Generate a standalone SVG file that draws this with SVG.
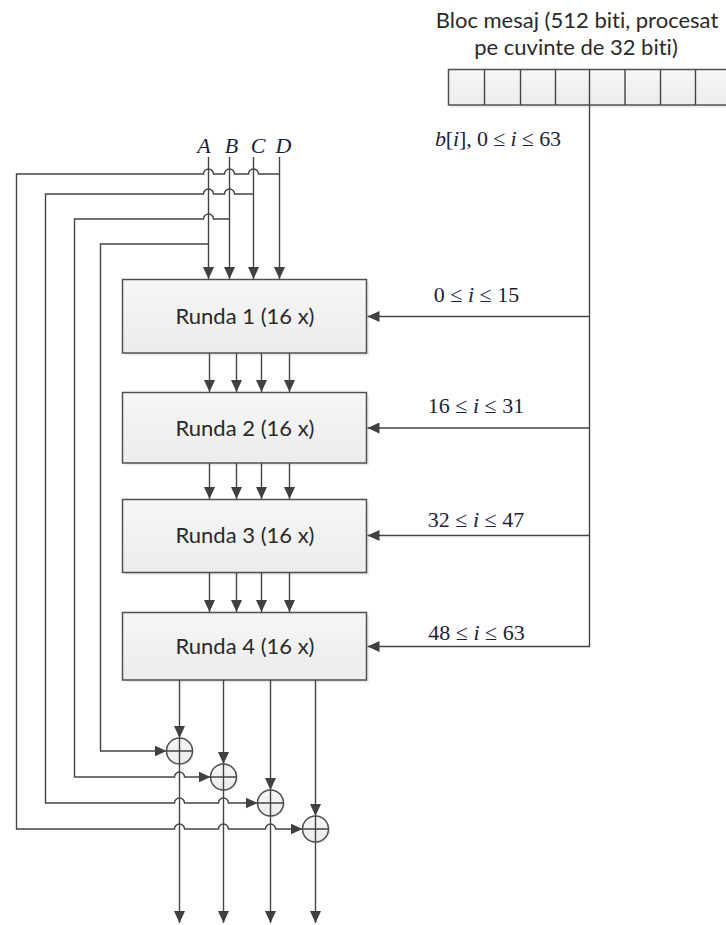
<svg xmlns="http://www.w3.org/2000/svg" width="726" height="925" viewBox="0 0 726 925">
<style>
  .ln{fill:none;stroke:#444;stroke-width:1.4}
  .arr{marker-end:url(#arr)}
  .box{fill:url(#gbox);stroke:#505050;stroke-width:1.5}
  .shadow{fill:#000;opacity:0.08}
  .cell{fill:url(#gbox);stroke:#505050;stroke-width:1.5}
  .lbl{font-family:Lato,"Liberation Sans",sans-serif;font-size:22px;fill:#2a2a2a;font-variant-ligatures:none;font-feature-settings:"liga" 0}
  .math{font-family:"Liberation Serif","Times New Roman",serif;font-size:22px;fill:#1e1e3c}
  .it{font-style:italic}
  .xor{fill:url(#gbox);stroke:#505050;stroke-width:1.5}
</style>
<defs>
  <linearGradient id="gbox" x1="0" y1="0" x2="0" y2="1">
    <stop offset="0" stop-color="#f6f6f6"/>
    <stop offset="1" stop-color="#ececec"/>
  </linearGradient>
  <marker id="arr" viewBox="0 0 12 11" markerWidth="12" markerHeight="11" refX="12" refY="5.5" orient="auto" markerUnits="userSpaceOnUse">
    <path d="M0,0 L12,5.5 L0,11 z" fill="#404040"/>
  </marker>
</defs>
<rect width="726" height="925" fill="#fff"/>

<g id="title">
  <text class="lbl" x="577" y="28" text-anchor="middle">Bloc mesaj (512 biti, procesat</text>
  <text class="lbl" x="576" y="55" text-anchor="middle">pe cuvinte de 32 biti)</text>
</g>

<g id="msg-block">
  <rect class="shadow" x="450.5" y="71.5" width="290" height="36"/>
  <rect class="cell" x="448.5" y="69.5" width="290" height="35.5"/>
  <path class="ln" d="M484.5,69.5V105M520.5,69.5V105M555.5,69.5V105M589.5,69.5V105M625,69.5V105M660.5,69.5V105M695.5,69.5V105" stroke="#505050"/>
</g>

<g id="labels">
  <text class="math" x="435" y="146" textLength="126" lengthAdjust="spacing"><tspan class="it">b</tspan>[<tspan class="it">i</tspan>], 0 ≤ <tspan class="it">i</tspan> ≤ 63</text>
  <text class="math it" x="204" y="153" text-anchor="middle" font-size="23">A</text>
  <text class="math it" x="231.5" y="153" text-anchor="middle" font-size="23">B</text>
  <text class="math it" x="258" y="153" text-anchor="middle" font-size="23">C</text>
  <text class="math it" x="283.5" y="153" text-anchor="middle" font-size="23">D</text>
  <text class="math" x="476.5" y="301.5" text-anchor="middle">0 ≤ <tspan class="it">i</tspan> ≤ 15</text>
  <text class="math" x="476" y="413" text-anchor="middle">16 ≤ <tspan class="it">i</tspan> ≤ 31</text>
  <text class="math" x="476" y="527" text-anchor="middle">32 ≤ <tspan class="it">i</tspan> ≤ 47</text>
  <text class="math" x="476.5" y="640" text-anchor="middle">48 ≤ <tspan class="it">i</tspan> ≤ 63</text>
</g>

<g id="round1">
  <rect class="shadow" x="125" y="282" width="244" height="73.5"/>
  <rect class="box" x="122.5" y="279.5" width="244" height="73.5"/>
  <text class="lbl" x="245" y="324" text-anchor="middle">Runda 1 (16 x)</text>
</g>
<g id="round2">
  <rect class="shadow" x="125" y="395" width="244" height="70.5"/>
  <rect class="box" x="122.5" y="392.5" width="244" height="70.5"/>
  <text class="lbl" x="245" y="435.5" text-anchor="middle">Runda 2 (16 x)</text>
</g>
<g id="round3">
  <rect class="shadow" x="125" y="502" width="244" height="73"/>
  <rect class="box" x="122.5" y="499.5" width="244" height="73"/>
  <text class="lbl" x="245" y="543" text-anchor="middle">Runda 3 (16 x)</text>
</g>
<g id="round4">
  <rect class="shadow" x="125" y="615" width="244" height="67.5"/>
  <rect class="box" x="122.5" y="612.5" width="244" height="67.5"/>
  <text class="lbl" x="245" y="654" text-anchor="middle">Runda 4 (16 x)</text>
</g>

<g id="connectors">
  <!-- inputs A B C D -->
  <path class="ln arr" d="M208.5,157V279"/>
  <path class="ln arr" d="M229.5,157V279"/>
  <path class="ln arr" d="M253.5,157V279"/>
  <path class="ln arr" d="M279.5,157V279"/>
  <!-- between rounds -->
  <path class="ln arr" d="M209.5,353V392"/>
  <path class="ln arr" d="M236.5,353V392"/>
  <path class="ln arr" d="M261.5,353V392"/>
  <path class="ln arr" d="M289.5,353V392"/>
  <path class="ln arr" d="M209.5,463V499"/>
  <path class="ln arr" d="M236.5,463V499"/>
  <path class="ln arr" d="M261.5,463V499"/>
  <path class="ln arr" d="M289.5,463V499"/>
  <path class="ln arr" d="M209.5,572.5V612"/>
  <path class="ln arr" d="M236.5,572.5V612"/>
  <path class="ln arr" d="M261.5,572.5V612"/>
  <path class="ln arr" d="M289.5,572.5V612"/>
  <!-- message words -->
  <path class="ln arr" d="M589.5,105V646.5H367.5"/>
  <path class="ln arr" d="M589.5,316.5H367.5"/>
  <path class="ln arr" d="M589.5,428H367.5"/>
  <path class="ln arr" d="M589.5,535.5H367.5"/>
  <!-- feedback -->
  <path class="ln arr" d="M279.5,174H258.5A5,5 0 0 0 248.5,174H234.5A5,5 0 0 0 224.5,174H213.5A5,5 0 0 0 203.5,174H16.5V829H174.5A5,5 0 0 1 184.5,829H218.5A5,5 0 0 1 228.5,829H265.5A5,5 0 0 1 275.5,829H302.5"/>
  <path class="ln arr" d="M253.5,194H234.5A5,5 0 0 0 224.5,194H213.5A5,5 0 0 0 203.5,194H45.5V803H174.5A5,5 0 0 1 184.5,803H218.5A5,5 0 0 1 228.5,803H257.5"/>
  <path class="ln arr" d="M229.5,219H213.5A5,5 0 0 0 203.5,219H74.5V777H174.5A5,5 0 0 1 184.5,777H210.5"/>
  <path class="ln arr" d="M208.5,244H100.5V751H166.5"/>
  <!-- outputs -->
  <path class="ln arr" d="M179.5,680V738"/>
  <path class="ln arr" d="M223.5,680V764"/>
  <path class="ln arr" d="M270.5,680V790"/>
  <path class="ln arr" d="M315.5,680V816"/>
  <path class="ln arr" d="M179.5,764V923"/>
  <path class="ln arr" d="M223.5,790V923"/>
  <path class="ln arr" d="M270.5,816V923"/>
  <path class="ln arr" d="M315.5,842V923"/>
</g>

<g id="xor1">
  <circle cx="181" cy="752.5" r="13" fill="#000" opacity="0.07"/>
  <circle class="xor" cx="179.5" cy="751" r="13"/>
  <path class="ln" d="M166.5,751H192.5M179.5,738V764"/>
</g>
<g id="xor2">
  <circle cx="225" cy="778.5" r="13" fill="#000" opacity="0.07"/>
  <circle class="xor" cx="223.5" cy="777" r="13"/>
  <path class="ln" d="M210.5,777H236.5M223.5,764V790"/>
</g>
<g id="xor3">
  <circle cx="272" cy="804.5" r="13" fill="#000" opacity="0.07"/>
  <circle class="xor" cx="270.5" cy="803" r="13"/>
  <path class="ln" d="M257.5,803H283.5M270.5,790V816"/>
</g>
<g id="xor4">
  <circle cx="317" cy="830.5" r="13" fill="#000" opacity="0.07"/>
  <circle class="xor" cx="315.5" cy="829" r="13"/>
  <path class="ln" d="M302.5,829H328.5M315.5,816V842"/>
</g>
</svg>
